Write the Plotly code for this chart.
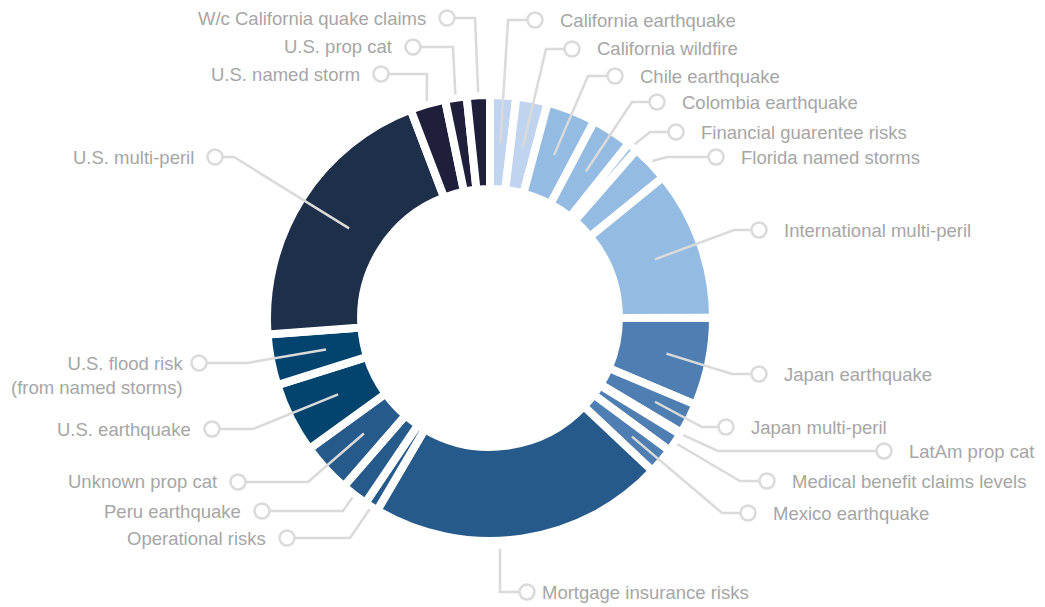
import math
import plotly.graph_objects as go

W, H = 1045, 607
OFF = 8                           # page body margin of the html page
FW, FH = W - OFF, H - OFF         # figure size that fits the window

# ---------------- data ----------------
categories = [
    "California earthquake", "California wildfire", "Chile earthquake", "Colombia earthquake",
    "Financial guarentee risks", "Florida named storms", "International multi-peril",
    "Japan earthquake", "Japan multi-peril", "LatAm prop cat", "Medical benefit claims levels",
    "Mexico earthquake", "Mortgage insurance risks", "Operational risks", "Peru earthquake",
    "Unknown prop cat", "U.S. earthquake", "U.S. flood risk<br>(from named storms)",
    "U.S. multi-peril", "U.S. named storm", "U.S. prop cat", "W/c California quake claims",
]
shares = [1.89, 2.28, 3.58, 2.94, 0.72, 2.72, 10.86, 6.36, 2.25, 0.14, 1.39, 1.89,
          21.42, 1.00, 1.94, 3.64, 5.11, 3.69, 20.39, 2.56, 1.56, 1.67]

# ---------------- styles ----------------
C_LIGHT, C_SKY, C_MID, C_STEEL = "#c1d4ef", "#94bce3", "#4f7fb2", "#265a8a"
C_TEAL, C_NAVY, C_INK = "#03446f", "#1e2f49", "#1f1f3c"
colors = [C_LIGHT, C_LIGHT, C_SKY, C_SKY, C_SKY, C_SKY, C_SKY,
          C_MID, C_MID, C_MID, C_MID, C_MID,
          C_STEEL, C_STEEL, C_STEEL, C_STEEL,
          C_TEAL, C_TEAL, C_NAVY, C_INK, C_INK, C_INK]

CX, CY, R = 490, 318, 223        # donut centre / radius in window pixels
HOLE = 0.578
LINE_C = "#dadada"
TEXT_C = "#a6a6a6"
FONT = "Liberation Sans"
FS = 18.5
CR = 7.5                          # label circle radius

# label layout: side, circle centre, elbow point, anchor radius, text gap
label_layout = [
    ("r", (535, 20), (508, 20), 175, 23),
    ("r", (572, 49), (546, 49), 175, 23),
    ("r", (615, 76), (588, 76), 175, 23),
    ("r", (657, 102), (632, 102), 175, 23),
    ("r", (676, 132), (650, 132), 226, 23),
    ("r", (716, 157), (667, 157), 226, 23),
    ("r", (759, 230), (734, 230), 175, 23),
    ("r", (759, 374), (732, 374), 180, 23),
    ("r", (726, 427), (702, 427), 185, 23),
    ("r", (884, 451), (718, 451), 226, 23),
    ("r", (767, 481), (740, 481), 226, 23),
    ("r", (748, 513), (722, 513), 185, 23),
    ("b", (527, 592), (500, 592), 231, 13),
    ("l", (287, 538), (350, 538), 226, 19),
    ("l", (262, 511), (343, 511), 226, 19),
    ("l", (238, 482), (308, 482), 171, 19),
    ("l", (212, 429), (253, 429), 170, 19),
    ("l", (199, 363), (247, 363), 167, 14),
    ("l", (215, 157), (234, 157), 167, 19),
    ("l", (381, 74), (427, 74), 226, 19),
    ("l", (413, 47), (453, 47), 226, 19),
    ("l", (447, 18), (475, 18), 226, 19),
]


def px(x):
    return (x - OFF) / FW


def py(y):
    return 1 - (y - OFF) / FH


fig = go.Figure()
fig.add_trace(go.Pie(
    labels=categories, values=shares, sort=False, direction="clockwise", rotation=0,
    hole=HOLE, textinfo="none", hoverinfo="label+percent", showlegend=False,
    marker=dict(colors=colors, line=dict(color="white", width=8)),
    domain=dict(x=[px(CX - R), px(CX + R)], y=[py(CY + R), py(CY - R)]),
))

total = sum(shares)
shapes, annotations = [], []
cum = 0.0
for cat, val, (side, (cx, cy), (ex, ey), ra, gap) in zip(categories, shares, label_layout):
    mid = (cum + val / 2) / total * 2 * math.pi
    cum += val
    if side == "b":
        ax, ay = ex, CY + math.sqrt(max(ra ** 2 - (ex - CX) ** 2, 0))
    else:
        ax, ay = CX + ra * math.sin(mid), CY - ra * math.cos(mid)
    end_x = cx - CR if side in ("r", "b") else cx + CR
    path = f"M {px(ax)},{py(ay)} L {px(ex)},{py(ey)} L {px(end_x)},{py(cy)}"
    shapes.append(dict(type="path", path=path, xref="paper", yref="paper",
                       line=dict(color=LINE_C, width=2.5), layer="above"))
    shapes.append(dict(type="circle", xref="paper", yref="paper",
                       x0=px(cx - CR), x1=px(cx + CR), y0=py(cy + CR), y1=py(cy - CR),
                       line=dict(color=LINE_C, width=2.5), fillcolor="white", layer="above"))
    if side in ("r", "b"):
        tx, xa = cx + gap, "left"
    else:
        tx, xa = cx - gap, "right"
    multi = "<br>" in cat
    annotations.append(dict(
        text=cat, x=px(tx), y=py(cy - 12 if multi else cy), xref="paper", yref="paper",
        xanchor=xa, yanchor="top" if multi else "middle", align="right" if side == "l" else "left",
        showarrow=False, font=dict(family=FONT, size=FS, color=TEXT_C),
    ))

fig.update_layout(
    width=FW, height=FH, margin=dict(l=0, r=0, t=0, b=0),
    paper_bgcolor="white", plot_bgcolor="white",
    shapes=shapes, annotations=annotations, showlegend=False,
)
fig.write_html("out.html")
